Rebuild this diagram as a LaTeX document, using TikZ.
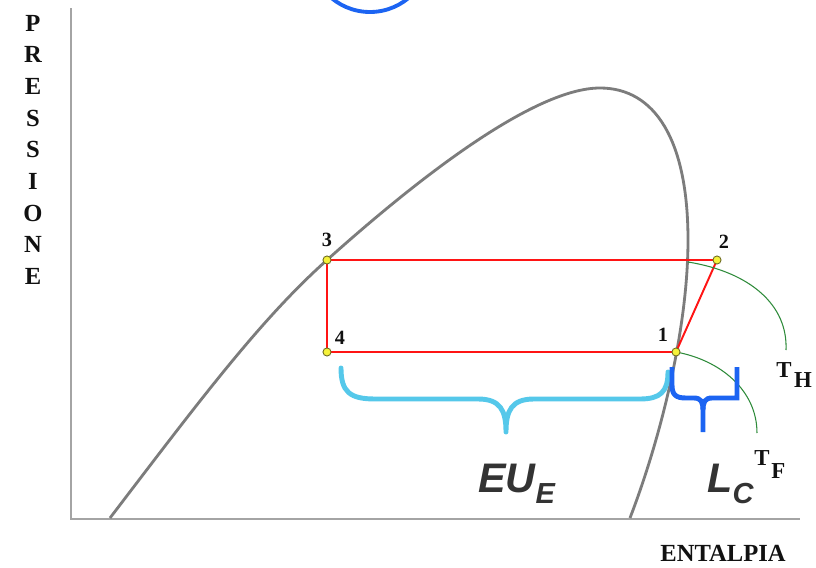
\documentclass[tikz,border=0pt]{standalone}
\usepackage{fontspec}
\setmainfont{Liberation Serif}
\setsansfont{Liberation Sans}
\usepackage{tikz}
\usetikzlibrary{positioning}
\definecolor{CycAxis}{HTML}{A4A4A4}
\definecolor{CycDome}{HTML}{7C7C7C}
\definecolor{CycRed}{HTML}{FF1414}
\definecolor{CycSky}{HTML}{55C8EA}
\definecolor{CycBlue}{HTML}{1C64F2}
\definecolor{CycGreen}{HTML}{2E8B3A}
\definecolor{CycInk}{HTML}{111111}
\definecolor{CycText}{HTML}{333333}
\definecolor{CycDot}{HTML}{F6F23A}
\tikzset{
  cyclabel/.style={font=\bfseries\fontsize{14}{16}\selectfont, text=CycInk, inner sep=0pt},
  cycnum/.style={font=\bfseries\fontsize{11.5}{12}\selectfont, text=CycInk, inner sep=0pt},
  cyctemp/.style={font=\bfseries\fontsize{13}{15}\selectfont, text=CycInk, inner sep=0pt, anchor=base west},
  cycbig/.style={font=\sffamily\bfseries\itshape\fontsize{23.5}{26}\selectfont, text=CycText, inner sep=0pt, anchor=base west},
  cycpoint/.style={circle, fill=CycDot, draw=CycInk!60!CycDot, line width=0.5pt, inner sep=0pt, minimum size=4.6pt},
  cycaxis/.style={draw=CycAxis, line width=1.2pt},
  cycdome/.style={draw=CycDome, line width=1.6pt},
  cycline/.style={draw=CycRed, line width=1.1pt},
  cyciso/.style={draw=CycGreen, line width=0.6pt},
  cycbrace/.style={line width=2.8pt, line cap=round, line join=round}
}
\newcommand{\cycsub}[1]{\raisebox{-6.4pt}{\fontsize{16.5}{18}\selectfont #1}}

\begin{document}
\begin{tikzpicture}[x=0.02cm, y=-0.02cm]
\useasboundingbox (0,0) rectangle (816,568);
\clip (0,0) rectangle (816,568);
\fill[white] (0,0) rectangle (816,568);

% axes
\coordinate (top) at (71,8);
\coordinate (origin) at (71,519);
\coordinate (right) at (800,519);
\draw[cycaxis] (top) -- (origin) -- (right);
\foreach \l [count=\i] in {P,R,E,S,S,I,O,N,E} {
  \node[cyclabel] (pr\i) at (33,{23+31.7*(\i-1)}) {\l};
}
\node[cyclabel] (hlab) at (723,553) {ENTALPIA};

% circle cut by the top edge
\draw[CycBlue, line width=2.2pt] (370,-48) circle [radius=60];

% cycle corners
\coordinate (c1) at (676,352);
\coordinate (c2) at (717,260);
\coordinate (c3) at (327,260);
\coordinate (c4) at (327,352);

% saturation dome
\draw[cycdome] (110,518) .. controls (200,400) and (260,320) .. (c3)
  .. controls (405,190) and (530,88) .. (600,88)
  .. controls (655,88) and (688,140) .. (688,240)
  .. controls (688,330) and (660,440) .. (630,518);

% cycle
\draw[cycline] (c3) -- (c2) -- (c1) -- (c4) -- cycle;

% isotherms
\coordinate (th) at (688,262);
\draw[cyciso] (th) .. controls (750,272) and (788,305) .. (786,350);
\draw[cyciso] (c1) .. controls (720,360) and (757,390) .. (757,433);

\foreach \k in {1,2,3,4} {
  \node[cycpoint] (p\k) at (c\k) {};
}
\node[cycnum, above=5pt of p3] (n3) {3};
\node[cycnum] (n2) at (724,242) {2};
\node[cycnum] (n4) at (340,338) {4};
\node[cycnum] (n1) at (663,335) {1};

\node[cyctemp] (tH) at (776,377) {T\hspace{1.5pt}\raisebox{-6.2pt}{H}};
\node[cyctemp] (tF) at (754,465) {T\hspace{1pt}\raisebox{-7.4pt}{F}};

% braces
\draw[cycbrace, CycSky] (341,368) .. controls (341,392) and (350,399) .. (375,399)
  -- (478,399) .. controls (500,399) and (506,410) .. (506,432)
  .. controls (506,410) and (512,399) .. (534,399)
  -- (640,399) .. controls (660,399) and (668,392) .. (668,372);
\draw[cycbrace, CycBlue, line cap=butt] (672,367) -- (672,385) .. controls (672,395) and (676,398) .. (686,398)
  -- (694,398) .. controls (701,398) and (703,402) .. (703,410) -- (703,432);
\draw[cycbrace, CycBlue, line cap=butt, line join=miter] (703,410) .. controls (703,402) and (705,398) .. (712,398)
  -- (737,398) -- (737,367);

\node[cycbig] (eu) at (478,492) {EU\cycsub{E}};
\node[cycbig] (lc) at (707,492) {L\cycsub{C}};
\end{tikzpicture}
\end{document}
